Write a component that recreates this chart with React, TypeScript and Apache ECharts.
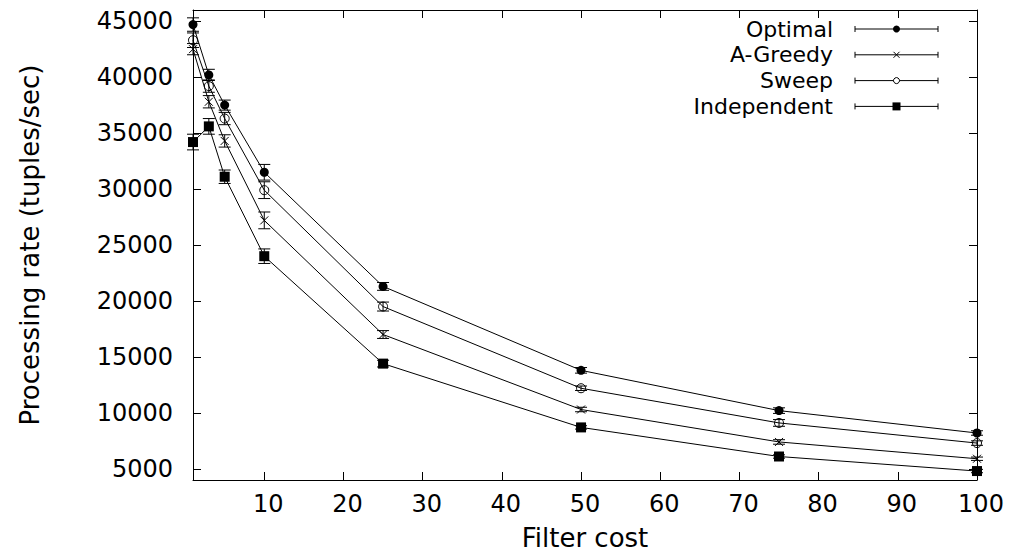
import React, { useEffect, useRef } from "react";
import * as echarts from "echarts";

// Filter cost values on the x-axis
const filterCosts = [1, 3, 5, 10, 25, 50, 75, 100];

// Processing rate (tuples/sec) per strategy
const optimal = [44700, 40200, 37500, 31500, 21300, 13800, 10200, 8200];
const aGreedy = [42500, 37800, 34300, 27200, 17000, 10300, 7400, 5900];
const sweep = [43300, 39200, 36300, 29900, 19500, 12200, 9100, 7300];
const independent = [34200, 35600, 31100, 24000, 14400, 8700, 6100, 4800];

// Half-width of the error bars
const optimalErr = [600, 500, 450, 700, 350, 250, 250, 200];
const aGreedyErr = [500, 550, 550, 750, 350, 200, 200, 150];
const sweepErr = [650, 550, 550, 750, 400, 200, 300, 200];
const independentErr = [700, 700, 600, 650, 300, 150, 150, 150];

const seriesNames = ["Optimal", "A-Greedy", "Sweep", "Independent"];

// Tick labels
const xTicks = [10, 20, 30, 40, 50, 60, 70, 80, 90, 100];
const yTicks = [5000, 10000, 15000, 20000, 25000, 30000, 35000, 40000, 45000];

const FONT = "'DejaVu Sans', Verdana, sans-serif";
const CROSS = "path://M0,0L10,10M10,0L0,10";

type Kind = "dot" | "cross" | "ring" | "square";
const kinds: Kind[] = ["dot", "cross", "ring", "square"];
const values = [optimal, aGreedy, sweep, independent];
const errors = [optimalErr, aGreedyErr, sweepErr, independentErr];

function symbolFor(kind: Kind) {
  switch (kind) {
    case "dot":
      return { symbol: "circle", symbolSize: 9, itemStyle: { color: "#000", borderWidth: 0 } };
    case "cross":
      return {
        symbol: CROSS,
        symbolSize: 8,
        itemStyle: { color: "none", borderColor: "#000", borderWidth: 1 },
      };
    case "ring":
      return {
        symbol: "circle",
        symbolSize: 9,
        itemStyle: { color: "none", borderColor: "#000", borderWidth: 1 },
      };
    default:
      return { symbol: "rect", symbolSize: 10, itemStyle: { color: "#000", borderWidth: 0 } };
  }
}

function legendMarker(kind: Kind, cx: number, cy: number) {
  const s = { stroke: "#000", lineWidth: 1 };
  switch (kind) {
    case "dot":
      return { type: "circle", shape: { cx, cy, r: 3.5 }, style: { fill: "#000" } };
    case "cross":
      return {
        type: "group",
        children: [
          { type: "line", shape: { x1: cx - 3, y1: cy - 3, x2: cx + 3, y2: cy + 3 }, style: s },
          { type: "line", shape: { x1: cx + 3, y1: cy - 3, x2: cx - 3, y2: cy + 3 }, style: s },
        ],
      };
    case "ring":
      return { type: "circle", shape: { cx, cy, r: 3 }, style: { fill: "#fff", ...s } };
    default:
      return { type: "rect", shape: { x: cx - 4, y: cy - 4, width: 8, height: 8 }, style: { fill: "#000" } };
  }
}

export default function App() {
  const ref = useRef<HTMLDivElement>(null);

  useEffect(() => {
    if (!ref.current) return;
    const chart = echarts.init(ref.current, undefined, { renderer: "svg" });

    const lineSeries = seriesNames.map((name, i) => ({
      name,
      type: "line",
      data: filterCosts.map((x, j) => [x, values[i][j]]),
      lineStyle: { color: "#000", width: 1 },
      ...symbolFor(kinds[i]),
      z: 3,
    }));

    const errorSeries = seriesNames.map((name, i) => ({
      name: name + " error",
      type: "custom",
      data: filterCosts.map((x, j) => [x, values[i][j], errors[i][j]]),
      z: 2,
      renderItem: (params: any, api: any) => {
        const x = api.value(0);
        const y = api.value(1);
        const e = api.value(2);
        const top = api.coord([x, y + e]);
        const bot = api.coord([x, y - e]);
        const hw = 6;
        const st = { stroke: "#000", lineWidth: 1 };
        return {
          type: "group",
          children: [
            { type: "line", shape: { x1: top[0], y1: top[1], x2: bot[0], y2: bot[1] }, style: st },
            { type: "line", shape: { x1: top[0] - hw, y1: top[1], x2: top[0] + hw, y2: top[1] }, style: st },
            { type: "line", shape: { x1: bot[0] - hw, y1: bot[1], x2: bot[0] + hw, y2: bot[1] }, style: st },
          ],
        };
      },
    }));

    // Key in the upper right: name, then a sample bar with caps and marker
    const legendRight = 833;
    const sampleL = 855;
    const sampleR = 938;
    const legendTop = 29;
    const legendStep = 25.8;
    const legendChildren: any[] = [];
    seriesNames.forEach((name, i) => {
      const cy = legendTop + i * legendStep;
      const st = { stroke: "#000", lineWidth: 1 };
      legendChildren.push(
        {
          type: "text",
          x: legendRight,
          y: cy,
          style: {
            text: name,
            font: `22px ${FONT}`,
            lineHeight: 22,
            fill: "#000",
            align: "right",
            verticalAlign: "middle",
          },
        },
        { type: "line", shape: { x1: sampleL, y1: cy, x2: sampleR, y2: cy }, style: st },
        { type: "line", shape: { x1: sampleL, y1: cy - 3, x2: sampleL, y2: cy + 3 }, style: st },
        { type: "line", shape: { x1: sampleR, y1: cy - 3, x2: sampleR, y2: cy + 3 }, style: st },
        legendMarker(kinds[i], (sampleL + sampleR) / 2, cy)
      );
    });

    const axisLine = { show: true, lineStyle: { color: "#000", width: 1 } };
    const labelStyle = { color: "#000", fontSize: 24, fontFamily: FONT };
    const nameStyle = { color: "#000", fontSize: 26, fontFamily: FONT };

    chart.setOption({
      animation: false,
      backgroundColor: "#fff",
      grid: { left: 193, right: 34, top: 10, bottom: 76, containLabel: false },
      xAxis: [
        {
          type: "value",
          min: 1,
          max: 100,
          position: "bottom",
          name: "Filter cost",
          nameLocation: "middle",
          nameGap: 45,
          nameTextStyle: nameStyle,
          axisLine,
          axisTick: { show: true, inside: true, length: 8, lineStyle: { color: "#000" }, customValues: xTicks },
          axisLabel: {
            ...labelStyle,
            margin: 12,
            padding: [0, 0, 0, 8],
            customValues: xTicks,
            formatter: (v: number) => String(v),
          },
          splitLine: { show: false },
        },
        {
          type: "value",
          min: 1,
          max: 100,
          position: "top",
          axisLine,
          axisTick: { show: true, inside: true, length: 8, lineStyle: { color: "#000" }, customValues: xTicks },
          axisLabel: { show: false },
          splitLine: { show: false },
        },
      ],
      yAxis: [
        {
          type: "value",
          min: 4000,
          max: 46000,
          position: "left",
          name: "Processing rate (tuples/sec)",
          nameLocation: "middle",
          nameGap: 150,
          nameRotate: 90,
          nameTextStyle: nameStyle,
          axisLine,
          axisTick: { show: true, inside: true, length: 8, lineStyle: { color: "#000" }, customValues: yTicks },
          axisLabel: { ...labelStyle, margin: 20, customValues: yTicks, formatter: (v: number) => String(v) },
          splitLine: { show: false },
        },
        {
          type: "value",
          min: 4000,
          max: 46000,
          position: "right",
          axisLine,
          axisTick: { show: true, inside: true, length: 8, lineStyle: { color: "#000" }, customValues: yTicks },
          axisLabel: { show: false },
          splitLine: { show: false },
        },
      ],
      series: [...errorSeries, ...lineSeries],
      graphic: [{ type: "group", children: legendChildren }],
    });

    return () => chart.dispose();
  }, []);

  return (
    <div
      ref={ref}
      style={{ position: "fixed", left: 0, top: 0, width: 1011, height: 556, background: "#fff" }}
    />
  );
}
